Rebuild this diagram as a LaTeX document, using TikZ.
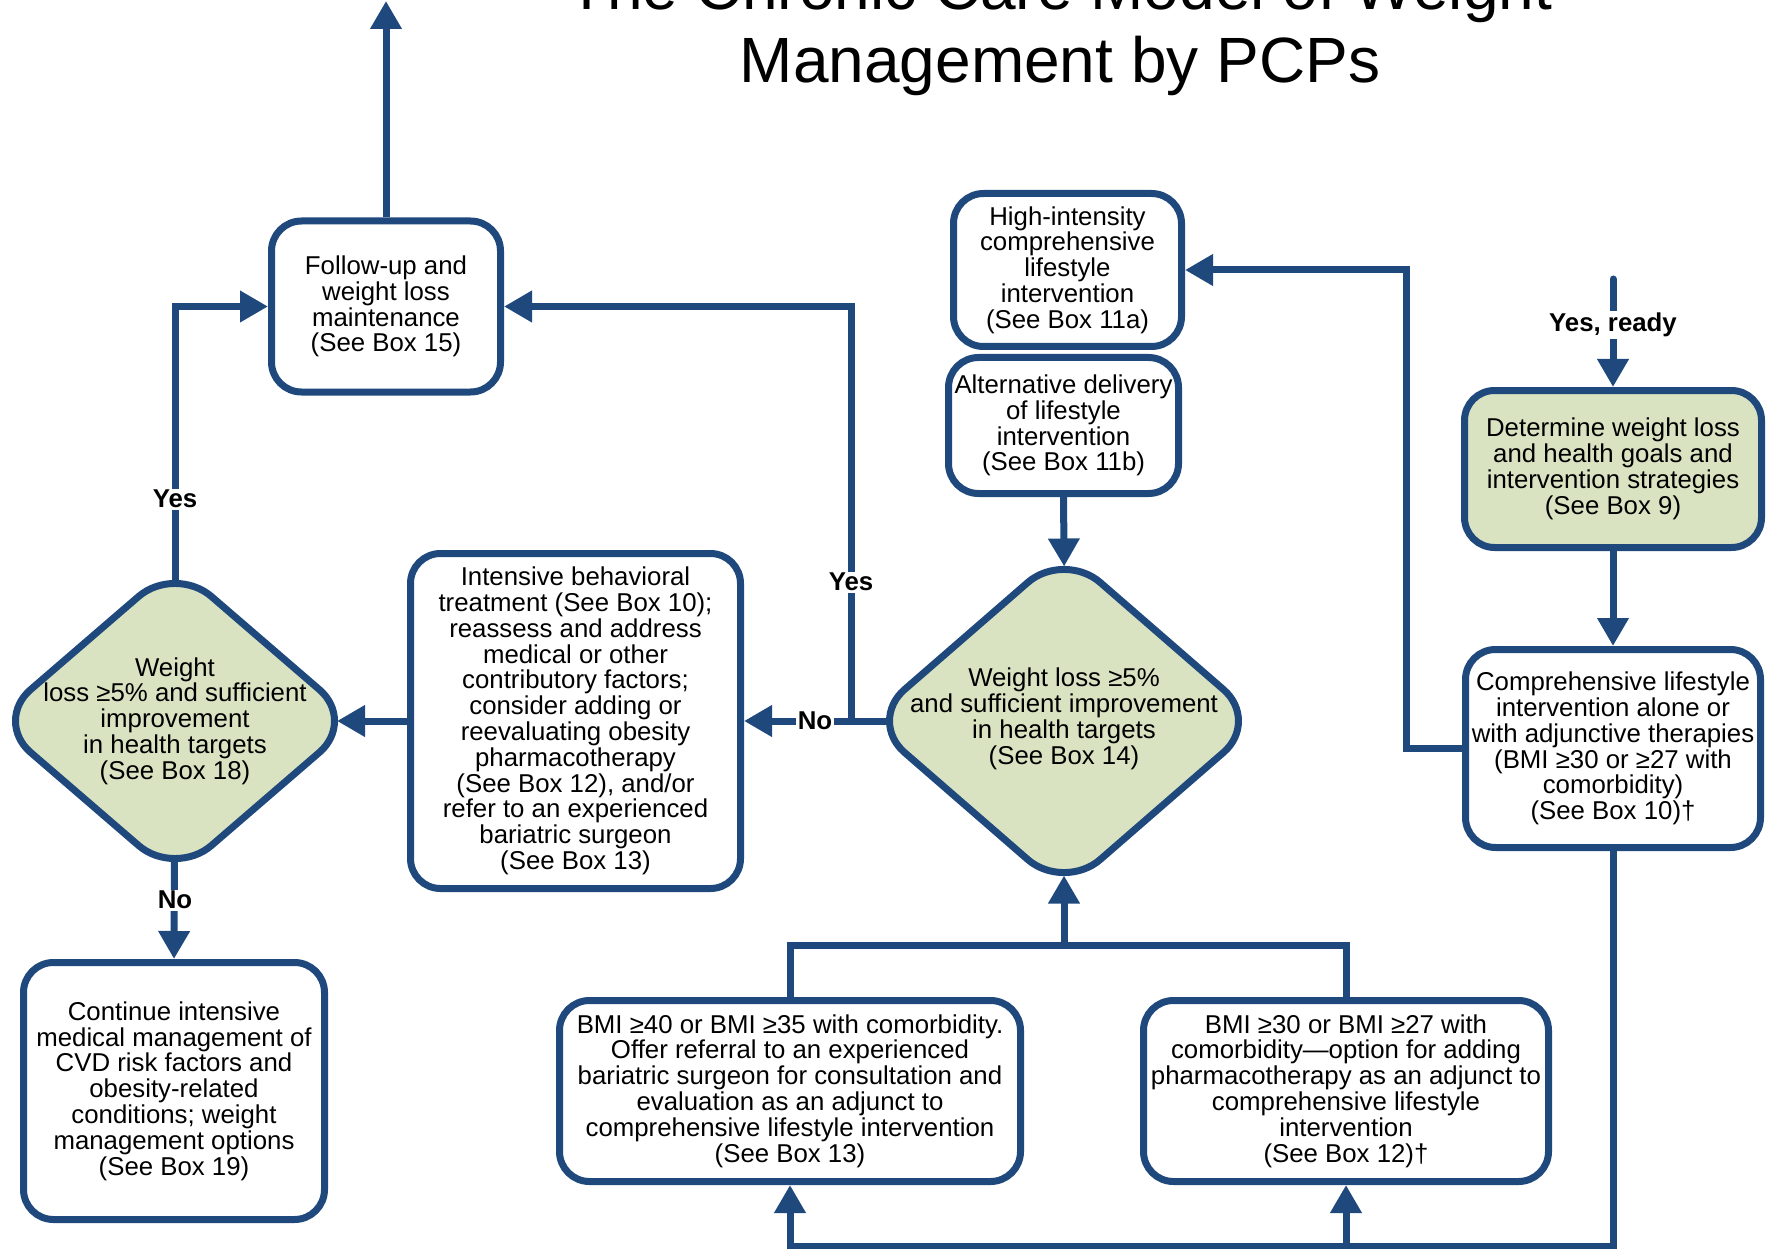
\documentclass[tikz,border=0pt]{standalone}
\usepackage{fontspec}
\setmainfont{Liberation Sans}
\usetikzlibrary{shapes.geometric,arrows.meta}
\definecolor{cblue}{RGB}{31,73,125}
\definecolor{cgreen}{RGB}{218,227,193}
\pgfdeclarelayer{bg}
\pgfsetlayers{bg,main}
\newcommand{\bodyfnt}{\fontsize{25.8pt}{25.8pt}\selectfont}
\newcommand{\labfnt}{\fontsize{25.8pt}{25.8pt}\selectfont\bfseries}
\newcommand{\titfnt}{\fontsize{64pt}{74pt}\selectfont}
\begin{document}
\begin{tikzpicture}[x=1pt,y=-1pt,
 box/.style={draw=cblue, line width=7pt, rounded corners=30pt, fill=white, align=center, inner sep=0pt, font=\bodyfnt},
 gbox/.style={box, fill=cgreen},
 dia/.style={diamond, draw=cblue, line width=7pt, rounded corners=48pt, fill=cgreen, inner sep=0pt, outer sep=0pt},
 dtext/.style={align=center, inner sep=0pt, font=\bodyfnt},
 conn/.style={draw=cblue, line width=7pt},
 arr/.style={conn, -{Triangle[length=28pt,width=30pt]}},
 lbl/.style={fill=white, inner sep=1.5pt, font=\labfnt},
 titl/.style={anchor=base, font=\titfnt, inner sep=0pt}
]
\useasboundingbox (0,0) rectangle (1773,1249);

% title
\node[titl] (t1) at (1060,10) {The Chronic Care Model of Weight};
\node[titl] (t2) at (1060,82.5) {Management by PCPs};

% boxes
\node[box, minimum width=229pt, minimum height=171pt] (fu) at (386,306.5)
 {Follow-up and\\weight loss\\maintenance\\(See Box 15)};
\node[box, minimum width=228pt, minimum height=153pt] (hi) at (1067.5,270)
 {High-intensity\\comprehensive\\lifestyle\\intervention\\(See Box 11a)};
\node[box, minimum width=230pt, minimum height=136pt] (alt) at (1063.5,425.5)
 {Alternative delivery\\of lifestyle\\intervention\\(See Box 11b)};
\node[gbox, minimum width=297pt, minimum height=157pt] (det) at (1613,469)
 {Determine weight loss\\and health goals and\\intervention strategies\\(See Box 9)};
\node[box, minimum width=295pt, minimum height=198pt] (comp) at (1613,748.5)
 {Comprehensive lifestyle\\intervention alone or\\with adjunctive therapies\\(BMI ≥30 or ≥27 with\\comorbidity)\\(See Box 10)†};
\node[box, minimum width=330pt, minimum height=335pt] (int) at (575.5,721)
 {Intensive behavioral\\treatment (See Box 10);\\reassess and address\\medical or other\\contributory factors;\\consider adding or\\reevaluating obesity\\pharmacotherapy\\(See Box 12), and/or\\refer to an experienced\\bariatric surgeon\\(See Box 13)};
\node[box, minimum width=301pt, minimum height=257pt] (cont) at (174,1091)
 {Continue intensive\\medical management of\\CVD risk factors and\\obesity-related\\conditions; weight\\management options\\(See Box 19)};
\node[box, minimum width=461pt, minimum height=181pt] (bs) at (790,1091)
 {BMI ≥40 or BMI ≥35 with comorbidity.\\Offer referral to an experienced\\bariatric surgeon for consultation and\\evaluation as an adjunct to\\comprehensive lifestyle intervention\\(See Box 13)};
\node[box, minimum width=405pt, minimum height=181pt] (ph) at (1346,1091)
 {BMI ≥30 or BMI ≥27 with\\comorbidity—option for adding\\pharmacotherapy as an adjunct to\\comprehensive lifestyle\\intervention\\(See Box 12)†};

% diamonds
\node[dia, minimum width=391.4pt, minimum height=340pt] (d14) at (1064,721) {};
\node[dtext] (d14t) at (1064,719) {Weight loss ≥5\%\\and sufficient improvement\\in health targets\\(See Box 14)};
\node[dia, minimum width=361.6pt, minimum height=311.8pt] (d18) at (175,721) {};
\node[dtext] (d18t) at (175,721) {Weight\\loss ≥5\% and sufficient\\improvement\\in health targets\\(See Box 18)};

% helper coordinates
\coordinate (topend) at (386,1);
\coordinate (j1) at (851,721);
\coordinate (rs) at (1613,279);
\coordinate (bline) at (0,1246);
\coordinate (mid) at (1064,945);

% connectors
\begin{pgfonlayer}{bg}
\draw[arr] (fu.north) -- (topend);
\draw[arr] (d18.center) |- (fu.west);
\draw[arr] (d14.center) -- (int.east);
\draw[arr] (j1) |- (fu.east);
\draw[arr, shorten >=-18.8pt] (int.west) -- (d18.east);
\draw[arr] (d18.center) -- (cont.north);
\draw[arr, shorten >=-15.5pt] (alt.south) -- (d14.north);
\draw[arr] (comp.west) -- ++(-56,0) |- (hi.east);
\draw[arr, line cap=round] (rs) -- (det.north);
\draw[arr] (det.south) -- (comp.north);
\draw[arr] (comp.south) -- (comp.south |- bline) -| (bs.south);
\draw[arr] (ph.south |- bline) -- (ph.south);
\draw[conn] (bs.north) |- (mid) -| (ph.north);
\draw[arr, shorten >=-15.5pt] (mid) -- (d14.south);
\end{pgfonlayer}

% labels
\node[lbl] (yes1) at (175,499) {Yes};
\node[lbl] (no1) at (175,900) {No};
\node[lbl] (yes2) at (851,582) {Yes};
\node[lbl] (no2) at (815,721) {No};
\node[lbl] (ready) at (1613,325) {Yes, ready};
\end{tikzpicture}
\end{document}
